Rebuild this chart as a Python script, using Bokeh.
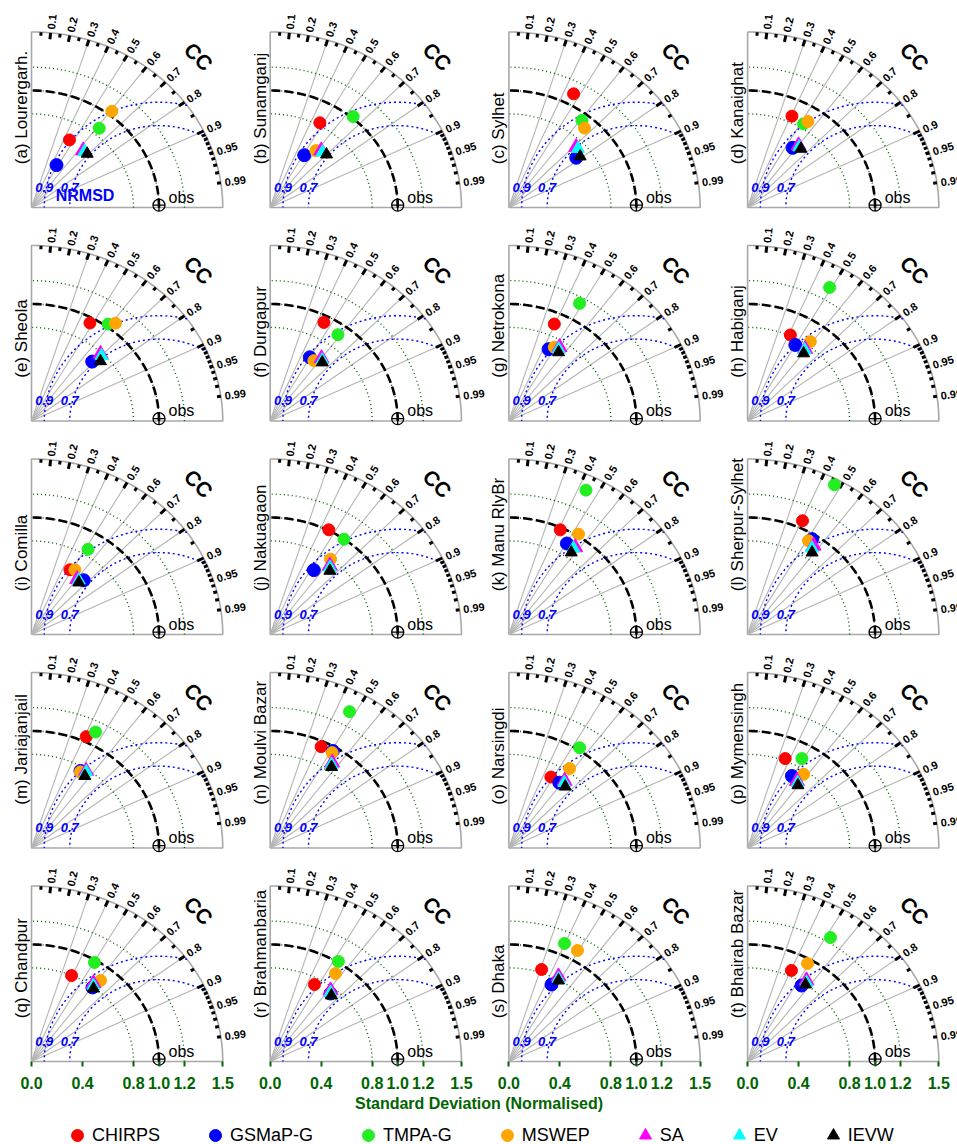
import numpy as np
from bokeh.plotting import figure
from bokeh.layouts import column
from bokeh.models import ColumnDataSource, Legend, LegendItem, FixedTicker, Title, Range1d
from bokeh.core.properties import value
from bokeh.embed import file_html
from bokeh.resources import INLINE

# ---------------- data ----------------
stations = ["Lourergarh.", "Sunamganj", "Sylhet", "Kanaighat", "Sheola", "Durgapur",
            "Netrokona", "Habiganj", "Comilla", "Nakuagaon", "Manu RlyBr", "Sherpur-Sylhet",
            "Jariajanjail", "Moulvi Bazar", "Narsingdi", "Mymensingh", "Chandpur",
            "Brahmanbaria", "Dhaka", "Bhairab Bazar"]
letters = list("abcdefghijklmnopqrst")

# normalised standard deviation and correlation (CC), panels (a)..(t)
chirps_sd = [0.650, 0.822, 1.096, 0.855, 0.955, 0.942, 0.902, 0.808, 0.630, 1.006, 0.981, 1.063, 1.044, 0.954, 0.690, 0.819, 0.799, 0.744, 0.827, 0.851]
chirps_cc = [0.458, 0.474, 0.463, 0.407, 0.480, 0.447, 0.395, 0.415, 0.478, 0.457, 0.411, 0.405, 0.411, 0.419, 0.477, 0.360, 0.393, 0.467, 0.310, 0.404]
gsmap_sd = [0.412, 0.521, 0.678, 0.620, 0.696, 0.627, 0.688, 0.750, 0.619, 0.648, 0.901, 0.959, 0.762, 0.964, 0.684, 0.707, 0.793, 0.749, 0.738, 0.775]
gsmap_cc = [0.476, 0.513, 0.779, 0.569, 0.684, 0.496, 0.452, 0.499, 0.662, 0.528, 0.505, 0.527, 0.504, 0.510, 0.578, 0.492, 0.603, 0.631, 0.453, 0.546]
tmpa_sd = [0.861, 1.014, 0.939, 0.839, 1.024, 0.909, 1.148, 1.310, 0.853, 0.999, 1.374, 1.450, 1.111, 1.321, 1.021, 0.875, 0.980, 1.009, 1.099, 1.243]
tmpa_cc = [0.617, 0.642, 0.610, 0.523, 0.587, 0.584, 0.483, 0.491, 0.520, 0.579, 0.440, 0.470, 0.452, 0.471, 0.543, 0.487, 0.504, 0.530, 0.397, 0.523]
mswep_sd = [1.036, 0.604, 0.901, 0.874, 1.064, 0.619, 0.724, 0.838, 0.649, 0.799, 1.017, 0.933, 0.756, 0.949, 0.829, 0.768, 0.879, 0.910, 1.091, 0.961]
mswep_cc = [0.608, 0.593, 0.658, 0.541, 0.619, 0.553, 0.492, 0.587, 0.524, 0.592, 0.537, 0.512, 0.508, 0.512, 0.574, 0.572, 0.616, 0.563, 0.493, 0.489]
sa_sd = [0.633, 0.630, 0.738, 0.664, 0.788, 0.670, 0.745, 0.763, 0.593, 0.751, 0.908, 0.918, 0.785, 0.876, 0.721, 0.691, 0.825, 0.770, 0.824, 0.832]
sa_cc = [0.640, 0.635, 0.715, 0.602, 0.687, 0.601, 0.533, 0.592, 0.604, 0.623, 0.573, 0.564, 0.546, 0.555, 0.606, 0.560, 0.589, 0.615, 0.472, 0.555]
ev_sd = [0.634, 0.626, 0.738, 0.656, 0.782, 0.661, 0.728, 0.754, 0.594, 0.740, 0.895, 0.894, 0.779, 0.861, 0.707, 0.682, 0.811, 0.756, 0.809, 0.818]
ev_cc = [0.656, 0.655, 0.733, 0.617, 0.702, 0.617, 0.536, 0.593, 0.624, 0.633, 0.566, 0.565, 0.551, 0.559, 0.614, 0.575, 0.599, 0.626, 0.481, 0.565]
ievw_sd = [0.634, 0.633, 0.709, 0.653, 0.744, 0.646, 0.705, 0.726, 0.579, 0.718, 0.855, 0.864, 0.744, 0.843, 0.686, 0.666, 0.791, 0.741, 0.794, 0.800]
ievw_cc = [0.689, 0.698, 0.788, 0.640, 0.727, 0.632, 0.553, 0.605, 0.641, 0.652, 0.572, 0.585, 0.562, 0.571, 0.644, 0.593, 0.615, 0.648, 0.490, 0.568]

cc_labels = [0.1, 0.2, 0.3, 0.4, 0.5, 0.6, 0.7, 0.8, 0.9, 0.95, 0.99]
cc_lines = [0.3, 0.4, 0.5, 0.6, 0.7, 0.8, 0.9]
sd_arcs = [0.8, 1.0, 1.2]
nrmsd_arcs = [0.9, 0.7]
sd_ticks = [0.0, 0.4, 0.8, 1.0, 1.2, 1.5]
SDMAX = 1.5

FONT = value("Liberation Sans")

# ---------------- layout ----------------
SX, SY = 127.5, 117.0          # px per unit (x, y)
COLW, ROWH = 238.7, 213.5       # panel pitch in px
DX, DY = COLW / SX, ROWH / SY
FW, FH = 957, 1066
x0 = -31 / SX
y0 = -5 / SY

p = figure(frame_width=FW, frame_height=FH,
           x_range=Range1d(x0, x0 + FW / SX), y_range=Range1d(y0, y0 + FH / SY),
           output_backend="svg", toolbar_location=None, min_border=0,
           y_axis_location=None, outline_line_color=None)
p.grid.visible = False
p.background_fill_color = "white"

offx = [(i % 4) * DX for i in range(20)]
offy = [(4 - i // 4) * DY for i in range(20)]


def per_panel(fn):
    xs, ys = [], []
    for ox, oy in zip(offx, offy):
        for x, y in fn():
            xs.append(list(np.asarray(x) + ox))
            ys.append(list(np.asarray(y) + oy))
    return xs, ys


def frame_paths():
    t = np.linspace(0, np.pi / 2, 120)
    x = np.concatenate([[0.0], SDMAX * np.cos(t), [0.0]])
    y = np.concatenate([[0.0], SDMAX * np.sin(t), [0.0]])
    return [(x, y)]


def radial_paths():
    out = []
    for c in cc_lines:
        s = np.sqrt(1 - c * c)
        out.append(([0, SDMAX * c], [0, SDMAX * s]))
    return out


def sd_arc_paths():
    t = np.linspace(0, np.pi / 2, 120)
    return [(r * np.cos(t), r * np.sin(t)) for r in sd_arcs]


def ref_arc_paths():
    t = np.linspace(0, np.pi / 2, 120)
    return [(1.0 * np.cos(t), 1.0 * np.sin(t))]


def nrmsd_paths():
    out = []
    for R in nrmsd_arcs:
        xi = (1 + SDMAX ** 2 - R * R) / 2
        yi = np.sqrt(SDMAX ** 2 - xi * xi)
        a0 = np.arctan2(yi, xi - 1)
        t = np.linspace(a0, np.pi, 120)
        out.append((1 + R * np.cos(t), R * np.sin(t)))
    return out


xs, ys = per_panel(frame_paths)
p.multi_line(xs, ys, line_color="#A8A8A8", line_width=1.6)
xs, ys = per_panel(radial_paths)
p.multi_line(xs, ys, line_color="#B4B4B4", line_width=1.1)
xs, ys = per_panel(sd_arc_paths)
p.multi_line(xs, ys, line_color="darkgreen", line_width=1.4, line_dash="1 3")
xs, ys = per_panel(nrmsd_paths)
p.multi_line(xs, ys, line_color="blue", line_width=1.4, line_dash="2 3")
xs, ys = per_panel(ref_arc_paths)
p.multi_line(xs, ys, line_color="black", line_width=2.6, line_dash="9 4")

# ticks on the correlation arc
big = np.arange(0.1, 0.91, 0.1)
med = np.arange(0.05, 0.96, 0.1)
sml = np.arange(0.91, 0.995, 0.01)
tx0, ty0, tx1, ty1 = [], [], [], []
for ox, oy in zip(offx, offy):
    for group, rin in ((big, 1.445), (med, 1.47), (sml, 1.47)):
        for c in group:
            s = np.sqrt(1 - c * c)
            tx0.append(ox + rin * c); ty0.append(oy + rin * s)
            tx1.append(ox + SDMAX * c); ty1.append(oy + SDMAX * s)
p.segment(tx0, ty0, tx1, ty1, line_color="black", line_width=3)

# correlation labels
lx, ly, lt, la = [], [], [], []
for ox, oy in zip(offx, offy):
    for c in cc_labels:
        s = np.sqrt(1 - c * c)
        lx.append(ox + 1.53 * c); ly.append(oy + 1.53 * s)
        lt.append(f"{c:g}")
        la.append(float(np.arctan2(SY * s, SX * c)))
p.text(x=lx, y=ly, text=lt, angle=la, text_font=FONT, text_font_size="11px",
       text_font_style="bold", text_align="left", text_baseline="middle", text_color="black")

# CC label
p.text(x=[ox + 1.31 for ox in offx], y=[oy + 1.29 for oy in offy], text=["CC"] * 20,
       angle=-np.pi / 4, text_font=FONT, text_font_size="21px", text_font_style="bold",
       text_align="center", text_baseline="middle", text_color="black")

# NRMSD arc labels
bx, by, bt = [], [], []
for ox, oy in zip(offx, offy):
    for R in nrmsd_arcs:
        bx.append(ox + 1 - R); by.append(oy + 0.175); bt.append(f"{R:g}")
p.text(x=bx, y=by, text=bt, text_font=FONT, text_font_size="13px", text_font_style="bold italic",
       text_align="center", text_baseline="middle", text_color="blue")
p.text(x=[offx[0] + 0.42], y=[offy[0] + 0.10], text=["NRMSD"], text_font=FONT,
       text_font_size="16px", text_font_style="bold", text_align="center",
       text_baseline="middle", text_color="blue")

# panel titles
p.text(x=[ox - 0.08 for ox in offx], y=[oy + 0.37 for oy in offy],
       text=[f"({l}) {s}" for l, s in zip(letters, stations)], angle=np.pi / 2,
       text_font=FONT, text_font_size="17px", text_align="left", text_baseline="middle",
       text_color="black")

# observation reference
p.scatter([ox + 1.0 for ox in offx], [oy + 0.02 for oy in offy], marker="circle_cross", size=12,
          fill_color=None, line_color="black", line_width=1.3)
p.text(x=[ox + 1.075 for ox in offx], y=[oy + 0.015 for oy in offy], text=["obs"] * 20,
       text_font=FONT, text_font_size="16px", text_align="left", text_baseline="bottom",
       text_color="black")

# data points
series = [
    ("CHIRPS", chirps_sd, chirps_cc, "circle", "#FF0000", 12),
    ("GSMaP-G", gsmap_sd, gsmap_cc, "circle", "#0000FF", 13),
    ("TMPA-G", tmpa_sd, tmpa_cc, "circle", "#22EE22", 12),
    ("MSWEP", mswep_sd, mswep_cc, "circle", "#FFA500", 12),
    ("SA", sa_sd, sa_cc, "triangle", "#FF00FF", 15),
    ("EV", ev_sd, ev_cc, "triangle", "#00FFFF", 13),
    ("IEVW", ievw_sd, ievw_cc, "triangle", "#000000", 12),
]
sources = []
for name, sd, cc, marker, color, size in series:
    sd = np.asarray(sd); cc = np.asarray(cc)
    src = ColumnDataSource(dict(x=sd * cc + np.asarray(offx),
                                y=sd * np.sqrt(1 - cc ** 2) + np.asarray(offy)))
    sources.append(src)
    p.scatter("x", "y", source=src, marker=marker, size=size,
              fill_color=color, line_color=color)

# x axis (standard deviation)
ticks, overrides = [], {}
for c in range(4):
    for v in sd_ticks:
        t = c * DX + v
        ticks.append(t)
        overrides[t] = f"{v:.1f}"
ax = p.xaxis[0]
ax.ticker = FixedTicker(ticks=ticks)
ax.major_label_overrides = overrides
ax.axis_line_color = None
ax.major_tick_line_color = "darkgreen"
ax.major_tick_line_width = 2
ax.major_tick_in = 5
ax.major_tick_out = 0
ax.minor_tick_line_color = None
ax.major_label_standoff = 10
ax.axis_label_standoff = 0
ax.major_label_text_font = "Liberation Sans"
ax.major_label_text_font_size = "16px"
ax.major_label_text_font_style = "bold"
ax.major_label_text_color = "darkgreen"

xt = Title(text="Standard Deviation (Normalised)", align="center", offset=17,
           text_font="Liberation Sans", text_font_size="16px", text_font_style="bold",
           text_color="darkgreen", standoff=3)
p.add_layout(xt, "below")

# ---------------- legend strip ----------------
# Same sources as the panels; this strip's y range lies far from the data so only
# the legend (which samples each renderer's style) is visible here.
LH = 34
q = figure(width=FW, height=LH, x_range=Range1d(0, FW), y_range=Range1d(1000, 1000 + LH),
           output_backend="svg", toolbar_location=None, min_border=0,
           x_axis_location=None, y_axis_location=None, outline_line_color=None)
q.grid.visible = False
items = []
for (name, sd, cc, marker, color, size), src in zip(series, sources):
    r = q.scatter("x", "y", source=src, marker=marker, size=size,
                  fill_color=color, line_color=color)
    items.append(LegendItem(label=name, renderers=[r], index=0))
legend = Legend(items=items, orientation="horizontal", location=(62, -3),
                label_text_font="Liberation Sans", label_text_font_size="18px",
                label_text_color="black",
                glyph_width=30, glyph_height=30, label_height=30, label_standoff=0,
                spacing=40, padding=0, margin=0, border_line_color=None,
                background_fill_alpha=0)
q.add_layout(legend)

open("out.html", "w").write(file_html(column(p, q, spacing=0), INLINE))
